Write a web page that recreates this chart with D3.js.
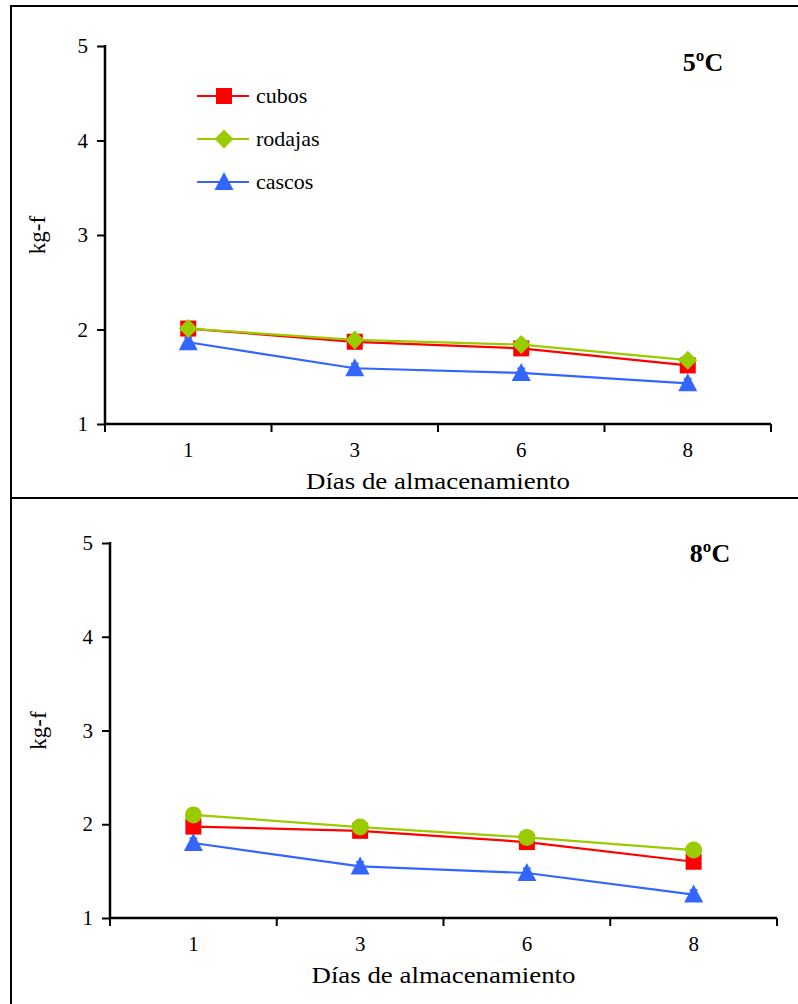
<!DOCTYPE html>
<html><head><meta charset="utf-8">
<script src="https://cdn.jsdelivr.net/npm/d3@7"></script>
<style>body{margin:0;background:#fff}svg{display:block}svg text{font-family:"Liberation Serif","Times New Roman",serif !important}</style>
</head><body>
<script>
const days = ["1","3","6","8"];
const yTicks = [1,2,3,4,5];
const seriesNames = ["cubos","rodajas","cascos"];
const cubos5 = [2.01,1.87,1.80,1.62];
const rodajas5 = [2.01,1.89,1.84,1.675];
const cascos5 = [1.865,1.59,1.54,1.43];
const cascos5Err = [0.05,0.05,0.05,0.05];
const cubos8 = [1.975,1.93,1.81,1.60];
const rodajas8 = [2.10,1.97,1.86,1.725];
const cascos8 = [1.80,1.55,1.48,1.25];
const cascos8Err = [0.05,0.05,0.05,0.05];
const titles = ["5ºC","8ºC"];
const xTitle = "Días de almacenamiento";
const yTitle = "kg-f";

const W=798,H=1004;
const svg=d3.select("body").append("svg").attr("width",W).attr("height",H);

// frame
svg.append("line").attr("x1",11).attr("x2",W).attr("y1",6).attr("y2",6).attr("stroke","#000").attr("stroke-width",2);
svg.append("line").attr("x1",11).attr("x2",11).attr("y1",5).attr("y2",H).attr("stroke","#000").attr("stroke-width",2);
svg.append("line").attr("x1",11).attr("x2",W).attr("y1",498).attr("y2",498).attr("stroke","#000").attr("stroke-width",2);

const colors={cubos:"#ff0000",rodajas:"#99cc00",cascos:"#3366ff"};

function marker(g,type,x,y,color){
  if(type==="square") g.append("rect").attr("x",x-8).attr("y",y-8).attr("width",16).attr("height",16).attr("fill",color);
  else if(type==="diamond") g.append("path").attr("d",`M${x},${y-9.5}L${x+9.5},${y}L${x},${y+9.5}L${x-9.5},${y}Z`).attr("fill",color);
  else if(type==="triangle") g.append("path").attr("d",`M${x},${y-10}L${x+9.5},${y+8}L${x-9.5},${y+8}Z`).attr("fill",color);
  else if(type==="circle") g.append("circle").attr("cx",x).attr("cy",y).attr("r",8.5).attr("fill",color);
}

function panel(cfg){
  const g=svg.append("g");
  const x=d3.scaleBand().domain(days).range([cfg.x0,cfg.x1]);
  const y=d3.scaleLinear().domain([1,5]).range([cfg.y0,cfg.y1]);
  const cx=d=>x(d)+x.bandwidth()/2;
  // y axis
  const ya=g.append("g").attr("transform",`translate(${cfg.x0},0)`).call(d3.axisLeft(y).tickValues(yTicks).tickSize(8).tickFormat(d3.format("d")));
  ya.select(".domain").remove();
  ya.selectAll(".tick line").attr("stroke","#000").attr("stroke-width",2);
  ya.selectAll(".tick text").attr("font-size",21).attr("fill","#000").attr("x",-17);
  g.append("line").attr("x1",cfg.x0).attr("x2",cfg.x0).attr("y1",cfg.y1-1).attr("y2",cfg.y0+1).attr("stroke","#000").attr("stroke-width",2.5);
  // x axis
  const xa=g.append("g").attr("transform",`translate(0,${cfg.y0})`).call(d3.axisBottom(x).tickSize(0).tickPadding(18));
  xa.select(".domain").remove();
  xa.selectAll(".tick text").attr("font-size",21).attr("fill","#000");
  g.append("line").attr("x1",cfg.x0).attr("x2",cfg.x1).attr("y1",cfg.y0).attr("y2",cfg.y0).attr("stroke","#000").attr("stroke-width",2.5);
  const bounds=days.map(d=>x(d)).concat([cfg.x1]);
  g.selectAll(".xt").data(bounds).enter().append("line").attr("x1",d=>d).attr("x2",d=>d).attr("y1",cfg.y0).attr("y2",cfg.y0+8).attr("stroke","#000").attr("stroke-width",2);
  // titles
  g.append("text").attr("x",(cfg.x0+cfg.x1)/2).attr("y",cfg.y0+65).attr("text-anchor","middle").attr("font-size",24)
    .attr("textLength",264).attr("lengthAdjust","spacingAndGlyphs").text(xTitle);
  g.append("text").attr("transform",`translate(${cfg.yt},${(cfg.y0+cfg.y1)/2}) rotate(-90)`).attr("text-anchor","middle").attr("font-size",23).text(yTitle);
  g.append("text").attr("x",cfg.tx).attr("y",cfg.ty).attr("text-anchor","middle").attr("font-size",26).attr("font-weight","bold").text(cfg.title);
  const line=d3.line().x((d,i)=>cx(days[i])).y(d=>y(d));
  cfg.series.forEach(s=>{
    g.append("path").attr("d",line(s.vals)).attr("fill","none").attr("stroke",colors[s.name]).attr("stroke-width",2.2);
  });
  cfg.series.forEach(s=>{
    if(s.err){
      s.vals.forEach((v,i)=>{
        const xx=cx(days[i]);
        g.append("line").attr("x1",xx).attr("x2",xx).attr("y1",y(v+s.err[i])).attr("y2",y(v)).attr("stroke",colors[s.name]).attr("stroke-width",1.5);
        g.append("line").attr("x1",xx-4).attr("x2",xx+4).attr("y1",y(v+s.err[i])).attr("y2",y(v+s.err[i])).attr("stroke",colors[s.name]).attr("stroke-width",1.5);
      });
    }
    s.vals.forEach((v,i)=>marker(g,s.marker,cx(days[i]),y(v),colors[s.name]));
  });
  if(cfg.legend){
    const lg=[{name:"cubos",marker:"square"},{name:"rodajas",marker:"diamond"},{name:"cascos",marker:"triangle"}];
    lg.forEach((l,i)=>{
      const yy=cfg.legend.y+i*43;
      g.append("line").attr("x1",cfg.legend.x).attr("x2",cfg.legend.x+52).attr("y1",yy).attr("y2",yy).attr("stroke",colors[l.name]).attr("stroke-width",2.2);
      marker(g,l.marker,cfg.legend.x+27,yy,colors[l.name]);
      g.append("text").attr("x",cfg.legend.x+59).attr("y",yy+7).attr("font-size",22).text(seriesNames[i]);
    });
  }
}

panel({x0:105,x1:771,y0:424,y1:46,yt:45,tx:703,ty:71,title:titles[0],
  legend:{x:197,y:96},
  series:[{name:"cascos",vals:cascos5,err:cascos5Err,marker:"triangle"},
          {name:"cubos",vals:cubos5,marker:"square"},
          {name:"rodajas",vals:rodajas5,marker:"diamond"}]});
panel({x0:110,x1:777,y0:918,y1:543,yt:46,tx:710,ty:562,title:titles[1],
  series:[{name:"cascos",vals:cascos8,err:cascos8Err,marker:"triangle"},
          {name:"cubos",vals:cubos8,marker:"square"},
          {name:"rodajas",vals:rodajas8,marker:"circle"}]});
</script>
</body></html>
